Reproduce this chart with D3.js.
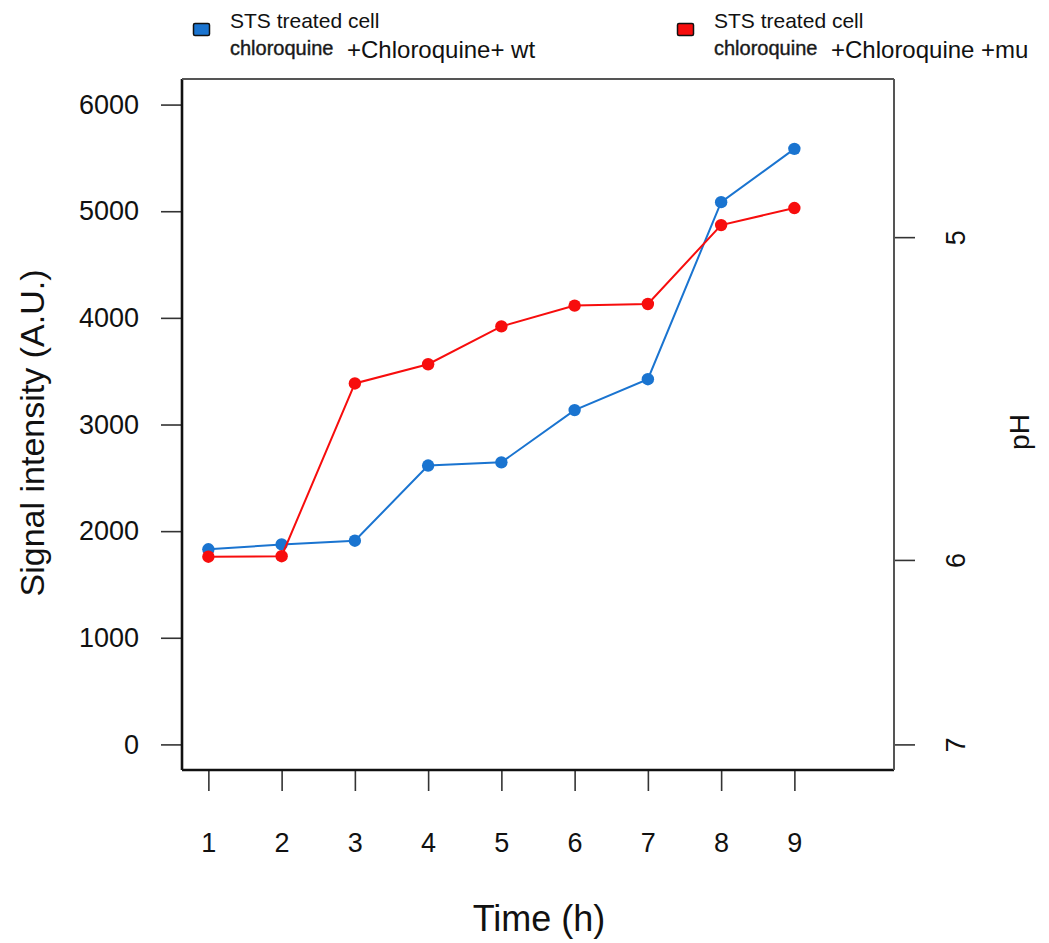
<!DOCTYPE html>
<html>
<head>
<meta charset="utf-8">
<script src="https://cdn.jsdelivr.net/npm/d3@7"></script>
<style>
  html, body { margin: 0; padding: 0; background: #fff; }
  svg { display: block; font-family: "Liberation Sans", Arial, sans-serif; }
</style>
</head>
<body>
<svg id="chart" width="1049" height="943"></svg>
<script>
// Time points (h)
const hours = [1, 2, 3, 4, 5, 6, 7, 8, 9];
// Signal intensity (A.U.) per time point
const wtSignal = [1830, 1875, 1910, 2615, 2645, 3135, 3425, 5085, 5585];
const muSignal = [1760, 1765, 3385, 3565, 3920, 4115, 4130, 4870, 5030];

// Axis ticks
const xTicks = [1, 2, 3, 4, 5, 6, 7, 8, 9];
const yTicks = [0, 1000, 2000, 3000, 4000, 5000, 6000];
const phTicks = [7, 6, 5];
// Signal level that each pH tick corresponds to on the right axis
const phSignalLevels = [0, 1730, 4757];

const seriesNames = ["wt", "mu"];
const seriesColors = ["#1a74d0", "#f70d0d"];

const svg = d3.select("#chart");

const x = d3.scaleLinear().domain([0.64, 10.36]).range([182, 894]);
const y = d3.scaleLinear().domain([-240, 6240]).range([770, 79]);
const ph = d3.scaleLinear().domain(phTicks).range(phSignalLevels.map(y));

const tickFont = 27;

// Left axis
const gLeft = svg.append("g").attr("transform", `translate(${x.range()[0]},0)`)
  .call(d3.axisLeft(y).tickValues(yTicks).tickSize(21).tickPadding(22).tickFormat(d3.format("d")));
gLeft.select(".domain").remove();

// Bottom axis
const gBottom = svg.append("g").attr("transform", `translate(0,771)`)
  .call(d3.axisBottom(x).tickValues(xTicks).tickSize(20).tickPadding(42).tickFormat(d3.format("d")));
gBottom.select(".domain").remove();

// Right axis (pH)
const gRight = svg.append("g").attr("transform", `translate(${x.range()[1]},0)`)
  .call(d3.axisRight(ph).tickValues(phTicks).tickSize(21).tickPadding(0).tickFormat(d3.format("d")));
gRight.select(".domain").remove();
gRight.selectAll(".tick text")
  .attr("x", null).attr("dy", null)
  .attr("text-anchor", "middle")
  .attr("transform", "translate(61,0) rotate(-90)")
  .attr("dy", "0.36em");

svg.selectAll(".tick line").attr("stroke", "#333").attr("stroke-width", 1.6);
svg.selectAll(".tick text").attr("font-size", tickFont).attr("fill", "#111")
  .attr("font-family", "'Liberation Sans', Arial, sans-serif");

// Plot frame
const [x0, x1] = x.range();
const [y0, y1] = y.range();
svg.append("line").attr("x1", x0).attr("x2", x0).attr("y1", y1).attr("y2", y0)
  .attr("stroke", "#111").attr("stroke-width", 2.6);
svg.append("line").attr("x1", x0).attr("x2", x1).attr("y1", y0).attr("y2", y0)
  .attr("stroke", "#111").attr("stroke-width", 2.6);
svg.append("line").attr("x1", x0).attr("x2", x1).attr("y1", y1).attr("y2", y1)
  .attr("stroke", "#555").attr("stroke-width", 2);
svg.append("line").attr("x1", x1).attr("x2", x1).attr("y1", y1).attr("y2", y0)
  .attr("stroke", "#555").attr("stroke-width", 2);

// Series lines and points
const series = [wtSignal, muSignal];
const line = d3.line().x((d, i) => x(hours[i])).y(d => y(d));
series.forEach((vals, s) => {
  const g = svg.append("g").attr("class", "series-" + seriesNames[s]);
  g.append("path").datum(vals).attr("d", line)
    .attr("fill", "none").attr("stroke", seriesColors[s]).attr("stroke-width", 2);
  g.selectAll("circle").data(vals).join("circle")
    .attr("cx", (d, i) => x(hours[i])).attr("cy", d => y(d)).attr("r", 6.2)
    .attr("fill", seriesColors[s]);
});

// Axis titles
svg.append("text").attr("x", 539).attr("y", 931).attr("text-anchor", "middle")
  .attr("font-size", 36).attr("fill", "#111").text("Time (h)");
svg.append("text").attr("transform", "translate(44,433) rotate(-90)").attr("text-anchor", "middle")
  .attr("font-size", 34).attr("fill", "#111").text("Signal intensity (A.U.)");
svg.append("text").attr("transform", "translate(1029,432) rotate(-90)").attr("text-anchor", "middle")
  .attr("font-size", 28).attr("fill", "#111").text("pH");

// Legend
const legendItems = [
  { x: 193, color: seriesColors[0], tail: "+Chloroquine+ wt" },
  { x: 677, color: seriesColors[1], tail: "+Chloroquine +mu" }
];
legendItems.forEach(it => {
  const g = svg.append("g").attr("transform", `translate(${it.x},0)`);
  g.append("rect").attr("x", 0.5).attr("y", 23.5).attr("width", 16).attr("height", 12).attr("rx", 1.5)
    .attr("fill", it.color).attr("stroke", "#111").attr("stroke-width", 1.5);
  g.append("text").attr("x", 37).attr("y", 28).attr("font-size", 21).attr("fill", "#111")
    .text("STS treated cell");
  g.append("text").attr("x", 37).attr("y", 55).attr("font-size", 20).attr("fill", "#1a1a1a")
    .attr("stroke", "#1a1a1a").attr("stroke-width", 0.4).text("chloroquine");
  g.append("text").attr("x", 154).attr("y", 58).attr("font-size", 24).attr("fill", "#111")
    .text(it.tail);
});
</script>
</body>
</html>
